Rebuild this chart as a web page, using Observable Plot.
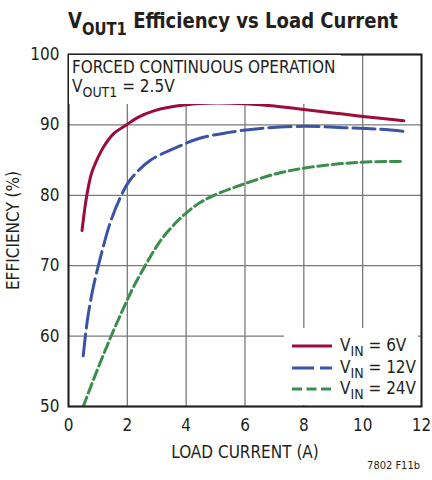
<!DOCTYPE html>
<html><head><meta charset="utf-8">
<script src="https://cdn.jsdelivr.net/npm/d3@7"></script>
<script src="https://cdn.jsdelivr.net/npm/@observablehq/plot@0.6"></script>
<style>
body{margin:0;background:#fff;}
#wrap{position:relative;width:432px;height:480px;overflow:hidden;font-family:"DejaVu Sans Condensed","Liberation Sans",sans-serif;color:#231f20;}
#title{position:absolute;left:68px;top:9px;font-size:22px;line-height:23px;font-weight:bold;white-space:nowrap;transform-origin:0 0;}
#title .sub{font-size:18px;position:relative;top:7px;}
#chart{position:absolute;left:0;top:40px;}
#note{position:absolute;left:69px;top:55px;width:272px;height:49px;background:#fff;font-size:17px;line-height:19px;padding:3px 0 0 3px;box-sizing:border-box;white-space:nowrap;}
#note .sub, #legend .sub{font-size:14px;position:relative;top:5px;}
#legend{position:absolute;left:284px;top:328px;width:134px;height:77px;background:#fff;}
#legend .row{position:absolute;left:0;height:20px;width:134px;font-size:17px;line-height:20px;white-space:nowrap;}
#legend svg{position:absolute;left:7px;top:0;}
#legend .lab{position:absolute;left:56px;top:-1px;}
#caption{position:absolute;right:12px;top:459px;font-size:11px;white-space:nowrap;}
</style></head><body>
<div id="wrap">
<div id="title">V<span class="sub">OUT1</span> Efficiency vs Load Current</div>
<div id="chart"></div>
<div id="note">FORCED CONTINUOUS OPERATION<br>V<span class="sub">OUT1</span> = 2.5V</div>
<div id="legend"></div>
<div id="caption">7802 F11b</div>
</div>
<script>
// ---- data ----
const xTicks = [0, 2, 4, 6, 8, 10, 12];
const yTicks = [50, 60, 70, 80, 90, 100];

const seriesNames = ["6V", "12V", "24V"];
const seriesColors = ["#9b0d38", "#3a53a5", "#3a8d4b"];
const seriesDash = [null, "22,6", "10,4.5"];

const load6V = [0.46, 0.61, 0.78, 0.95, 1.18, 1.52, 1.97, 2.33, 2.9, 4.0, 5.0, 6.0, 7.0, 8.0, 9.0, 10.0, 11.4];
const eff6V  = [75, 79.7, 83.1, 84.9, 86.8, 88.7, 90.0, 91.0, 92.0, 92.85, 93.1, 93.0, 92.7, 92.2, 91.7, 91.2, 90.6];

const load12V = [0.5, 0.65, 0.84, 1.12, 1.41, 1.74, 2.08, 2.76, 3.67, 4.46, 5.4, 6.53, 8.0, 9.36, 10.5, 11.4];
const eff12V  = [57.2, 62.5, 66.9, 71.7, 76.0, 79.5, 82.1, 84.9, 86.8, 88.1, 88.9, 89.5, 89.8, 89.6, 89.4, 89.1];

const load24V = [0.5, 0.97, 1.48, 1.94, 2.2, 2.65, 3.1, 3.67, 4.12, 4.49, 4.95, 5.96, 7.1, 8.23, 9.93, 11.4];
const eff24V  = [50, 55.1, 60.3, 64.6, 66.9, 70.3, 73.4, 76.2, 77.9, 79.0, 80.0, 81.6, 83.1, 84.0, 84.7, 84.8];

const loads = [load6V, load12V, load24V];
const effs = [eff6V, eff12V, eff24V];

const series = seriesNames.map((name, i) =>
  loads[i].map((x, j) => ({vin: name, load: x, eff: effs[i][j]})));

const font = '"DejaVu Sans Condensed","Liberation Sans",sans-serif';

const chart = Plot.plot({
  width: 432,
  height: 440,
  marginTop: 14,
  marginLeft: 68,
  marginRight: 11,
  marginBottom: 74,
  style: {fontFamily: font, fontSize: "17px", color: "#231f20", background: "#fff"},
  x: {domain: [0, 12], ticks: xTicks, tickSize: 0, tickPadding: 12, label: "LOAD CURRENT (A)", labelAnchor: "center", labelArrow: "none", labelOffset: 51},
  y: {domain: [50, 100], ticks: yTicks, tickSize: 0, tickPadding: 9, label: "EFFICIENCY (%)", labelAnchor: "center", labelArrow: "none", labelOffset: 62},
  marks: [
    Plot.ruleX(xTicks, {stroke: "#7a7a7a", strokeWidth: 1.3}),
    Plot.ruleY(yTicks, {stroke: "#7a7a7a", strokeWidth: 1.3}),
    ...series.map((data, i) => Plot.line(data, {
      x: "load", y: "eff", stroke: seriesColors[i], strokeWidth: 3,
      strokeDasharray: seriesDash[i] || undefined, curve: "catmull-rom", clip: true
    })),
    Plot.frame({stroke: "#231f20", strokeWidth: 2})
  ]
});
document.getElementById("chart").appendChild(chart);

// fit the condensed title to the reference width
const title = document.getElementById("title");
const tw = title.getBoundingClientRect().width;
title.style.transform = `scaleX(${330 / tw})`;

// legend (HTML, from the series arrays)
const legend = document.getElementById("legend");
const rowTops = [8, 29.5, 51];
seriesNames.forEach((name, i) => {
  const row = document.createElement("div");
  row.className = "row";
  row.style.top = rowTops[i] + "px";
  row.innerHTML = `<svg width="42" height="20"><line x1="1" x2="41" y1="10" y2="10" stroke="${seriesColors[i]}" stroke-width="3" ${seriesDash[i] ? `stroke-dasharray="${seriesDash[i]}"` : ""}/></svg><span class="lab">V<span class="sub">IN</span> = ${name}</span>`;
  legend.appendChild(row);
});
</script>
</body></html>
